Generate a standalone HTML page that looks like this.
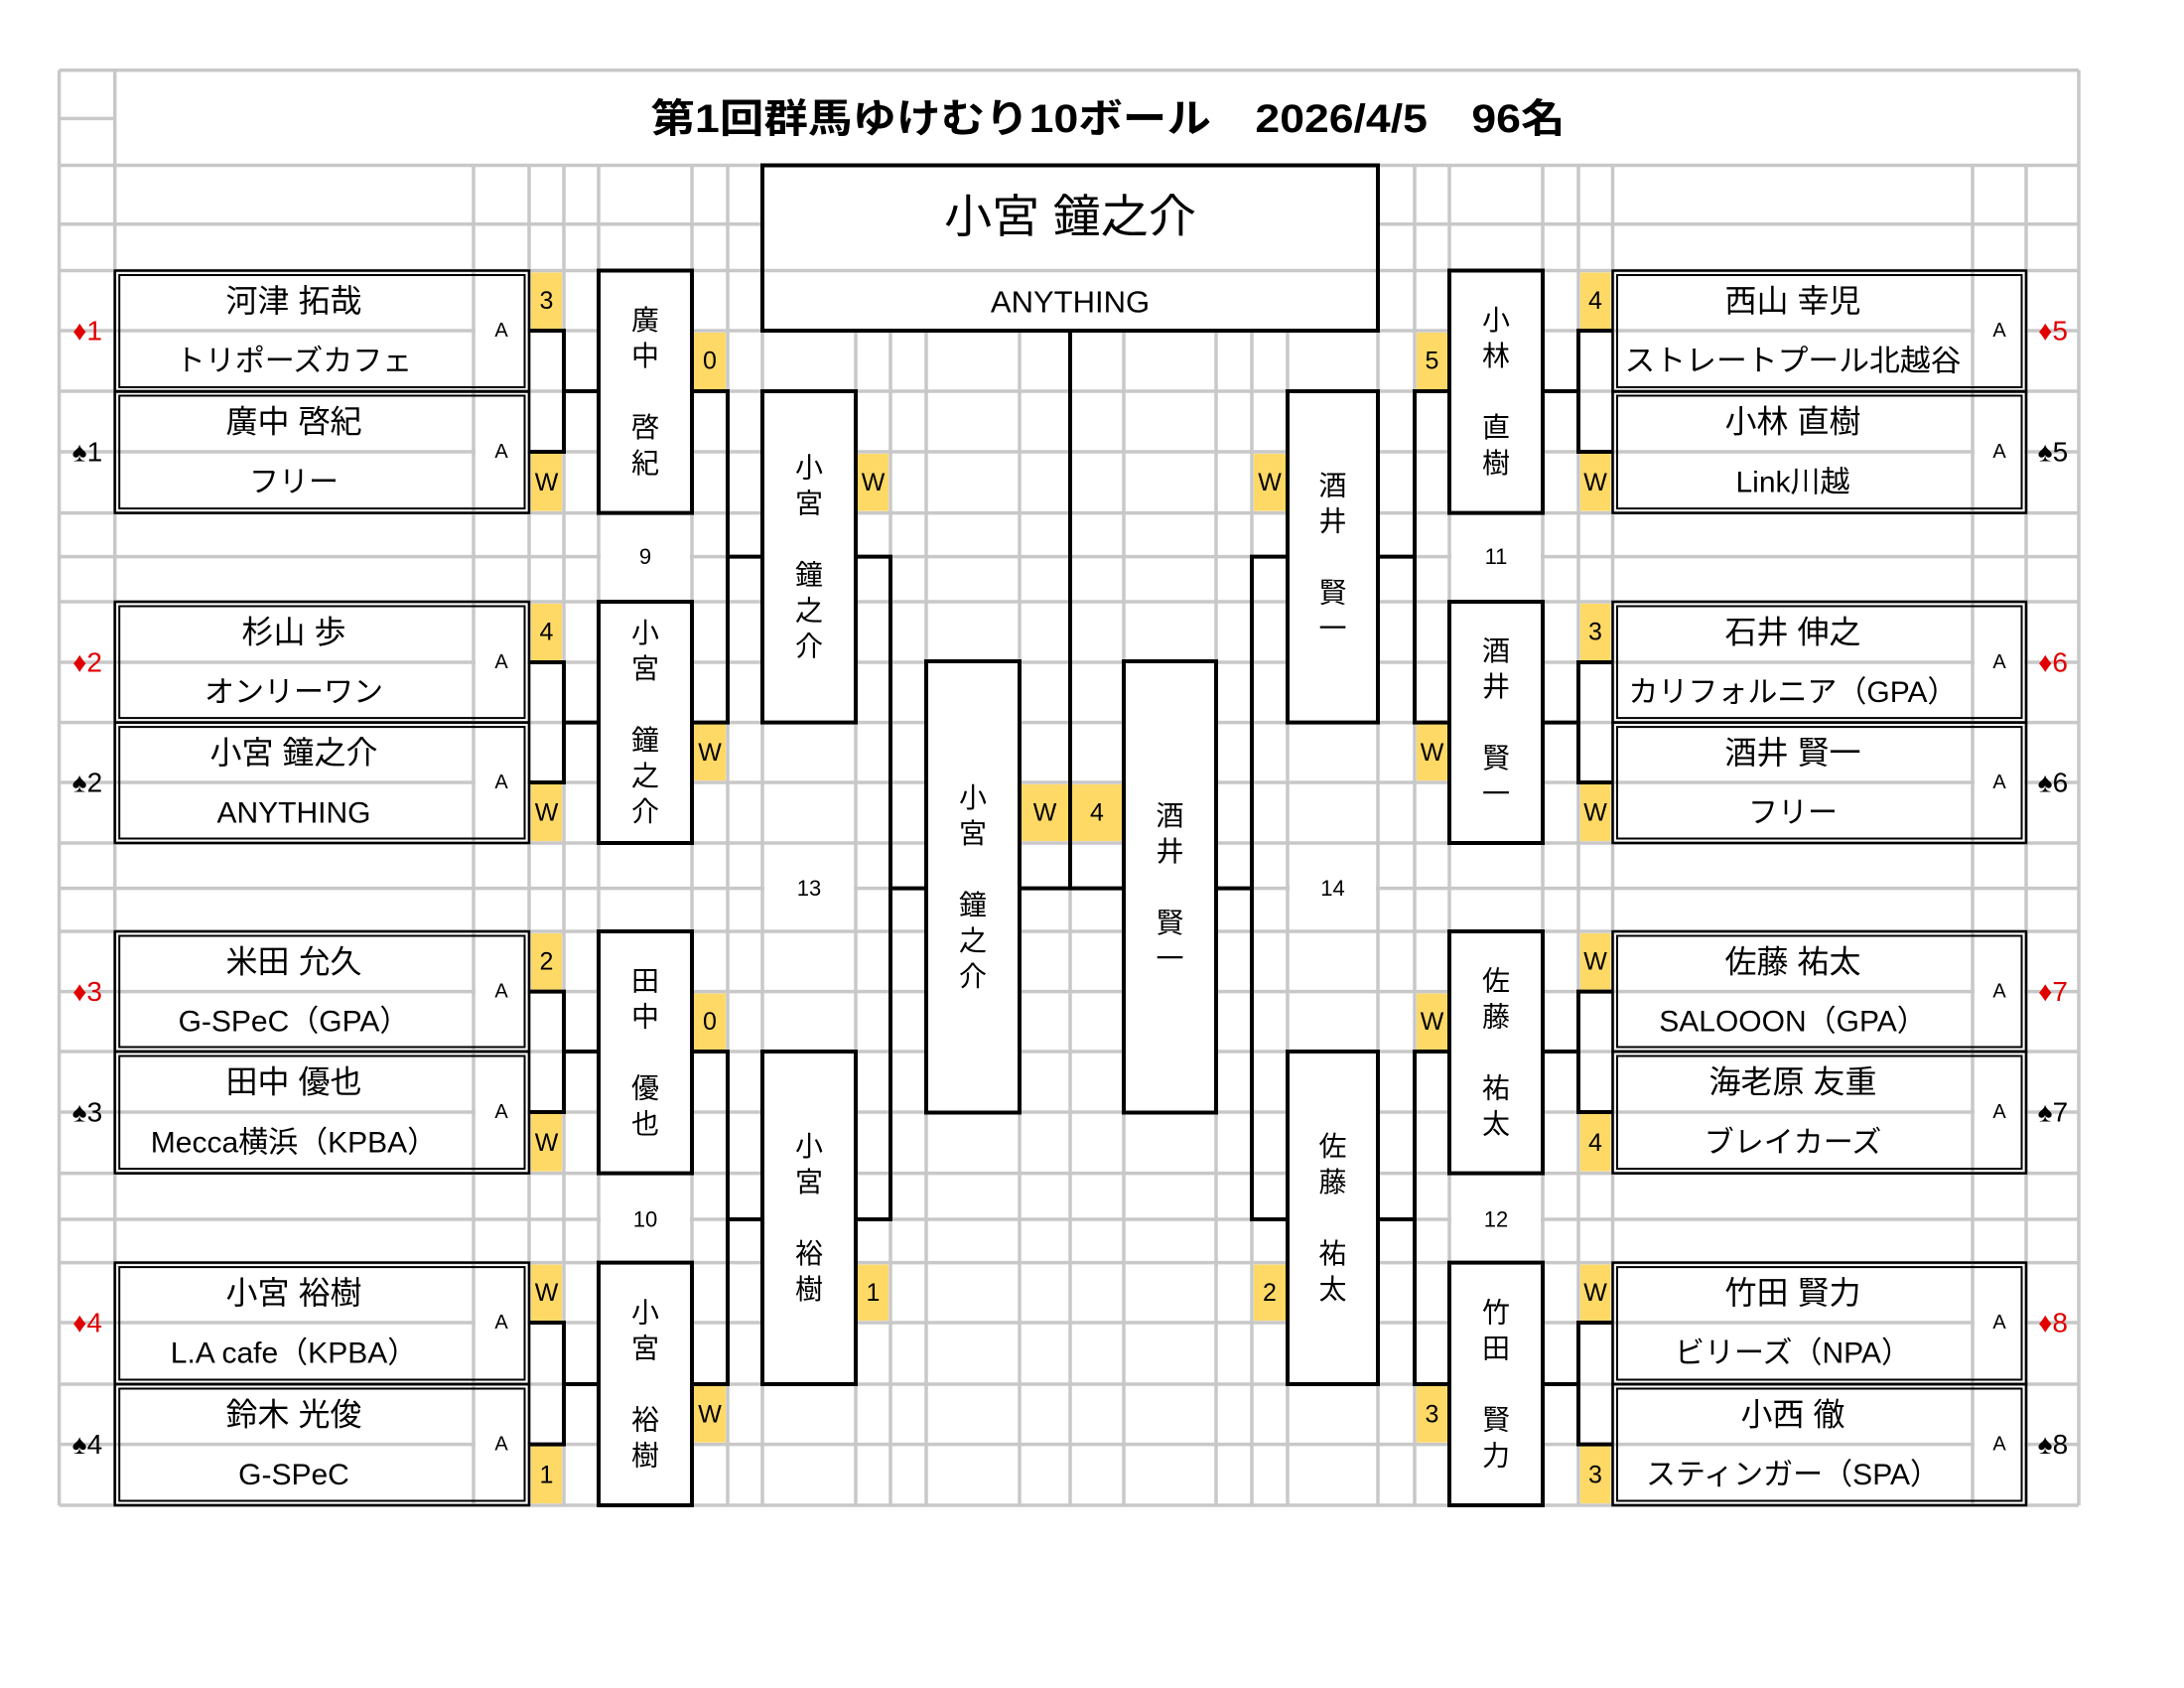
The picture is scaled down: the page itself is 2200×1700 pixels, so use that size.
<!DOCTYPE html>
<html><head><meta charset="utf-8"><style>html,body{margin:0;padding:0;background:#fff}svg{display:block}</style></head>
<body>
<svg xmlns="http://www.w3.org/2000/svg" width="2200" height="1700" viewBox="0 0 2200 1700" font-family="'Liberation Sans','Noto Sans CJK JP',sans-serif">
<rect width="2200" height="1700" fill="#fff"/>
<!-- grid -->
<g stroke="#c8c8c8" stroke-width="3.5" fill="none">
<path d="M59.6 70.8V1516M115.7 70.8V1516M2094 70.8V1516
M477 166.5V1516M533 166.5V1516M568 166.5V1516M603 166.5V1516M697 166.5V1516M733 166.5V1516M768 166.5V1516M862 166.5V1516M897 166.5V1516M933 166.5V1516M1027 166.5V1516M1078 166.5V1516M1132 166.5V1516M1225 166.5V1516M1261 166.5V1516M1297 166.5V1516M1388 166.5V1516M1425 166.5V1516M1460 166.5V1516M1554 166.5V1516M1590 166.5V1516M1624.5 166.5V1516M1987 166.5V1516M2041 166.5V1516"/>
<path d="M59.6 70.8H2094M59.6 119.4H115.7M59.6 166.5H2094M59.6 225.8H2094M59.6 272.5H2094M59.6 333H2094M59.6 394H2094M59.6 455H2094M59.6 516.6H2094M59.6 560.6H2094M59.6 606H2094M59.6 667H2094M59.6 727.6H2094M59.6 788H2094M59.6 849H2094M59.6 894.6H2094M59.6 938H2094M59.6 998.6H2094M59.6 1059H2094M59.6 1120H2094M59.6 1181.6H2094M59.6 1228H2094M59.6 1271.6H2094M59.6 1332H2094M59.6 1394H2094M59.6 1454.6H2094M59.6 1516H2094"/>
</g>
<!-- merged white cells -->
<g fill="#fff">
<rect x="605" y="518.5" width="90" height="85.5"/>
<rect x="605" y="1183.5" width="90" height="86"/>
<rect x="1462" y="518.5" width="90" height="85.5"/>
<rect x="1462" y="1183.5" width="90" height="86"/>
<rect x="770" y="851" width="90" height="85"/>
<rect x="1299" y="851" width="87" height="85"/>
<!-- A cells -->
<rect x="479" y="275" width="52" height="117"/><rect x="479" y="396" width="52" height="118"/>
<rect x="479" y="608" width="52" height="118"/><rect x="479" y="730" width="52" height="117"/>
<rect x="479" y="940" width="52" height="117"/><rect x="479" y="1061" width="52" height="118"/>
<rect x="479" y="1274" width="52" height="118"/><rect x="479" y="1396" width="52" height="118"/>
<rect x="1989" y="275" width="50" height="117"/><rect x="1989" y="396" width="50" height="118"/>
<rect x="1989" y="608" width="50" height="118"/><rect x="1989" y="730" width="50" height="117"/>
<rect x="1989" y="940" width="50" height="117"/><rect x="1989" y="1061" width="50" height="118"/>
<rect x="1989" y="1274" width="50" height="118"/><rect x="1989" y="1396" width="50" height="118"/>
</g>
<!-- white boxes -->
<g fill="#fff" stroke="#000" stroke-width="4">
<rect x="768" y="166.5" width="620" height="166.5"/>
<rect x="603" y="272.5" width="94" height="244.1"/>
<rect x="603" y="606" width="94" height="243"/>
<rect x="603" y="938" width="94" height="243.6"/>
<rect x="603" y="1271.6" width="94" height="244.4"/>
<rect x="768" y="394" width="94" height="333.6"/>
<rect x="768" y="1059" width="94" height="335"/>
<rect x="933" y="666" width="94" height="454.5"/>
<rect x="1132" y="666" width="93" height="454.5"/>
<rect x="1297" y="394" width="91" height="333.6"/>
<rect x="1297" y="1059" width="91" height="335"/>
<rect x="1460" y="272.5" width="94" height="244.1"/>
<rect x="1460" y="606" width="94" height="243"/>
<rect x="1460" y="938" width="94" height="243.6"/>
<rect x="1460" y="1271.6" width="94" height="244.4"/>
</g>
<!-- champion inner line -->
<path d="M770 272.5H1386" stroke="#c8c8c8" stroke-width="3.5"/>
<!-- player boxes double borders -->
<g fill="none" stroke="#000">
<g stroke-width="2.5">
<rect x="115.7" y="272.5" width="417.3" height="122"/><rect x="115.7" y="394" width="417.3" height="122.6"/>
<rect x="115.7" y="606" width="417.3" height="121.6"/><rect x="115.7" y="727.6" width="417.3" height="121.4"/>
<rect x="115.7" y="938" width="417.3" height="121"/><rect x="115.7" y="1059" width="417.3" height="122.6"/>
<rect x="115.7" y="1271.6" width="417.3" height="122.4"/><rect x="115.7" y="1394" width="417.3" height="122"/>
<rect x="1624.5" y="272.5" width="416.5" height="122"/><rect x="1624.5" y="394" width="416.5" height="122.6"/>
<rect x="1624.5" y="606" width="416.5" height="121.6"/><rect x="1624.5" y="727.6" width="416.5" height="121.4"/>
<rect x="1624.5" y="938" width="416.5" height="121"/><rect x="1624.5" y="1059" width="416.5" height="122.6"/>
<rect x="1624.5" y="1271.6" width="416.5" height="122.4"/><rect x="1624.5" y="1394" width="416.5" height="122"/>
</g>
<g stroke-width="2">
<rect x="120.2" y="277" width="408.3" height="113"/><rect x="120.2" y="398.5" width="408.3" height="113.6"/>
<rect x="120.2" y="610.5" width="408.3" height="112.6"/><rect x="120.2" y="732.1" width="408.3" height="112.4"/>
<rect x="120.2" y="942.5" width="408.3" height="112"/><rect x="120.2" y="1063.5" width="408.3" height="113.6"/>
<rect x="120.2" y="1276.1" width="408.3" height="113.4"/><rect x="120.2" y="1398.5" width="408.3" height="113"/>
<rect x="1629" y="277" width="407.5" height="113"/><rect x="1629" y="398.5" width="407.5" height="113.6"/>
<rect x="1629" y="610.5" width="407.5" height="112.6"/><rect x="1629" y="732.1" width="407.5" height="112.4"/>
<rect x="1629" y="942.5" width="407.5" height="112"/><rect x="1629" y="1063.5" width="407.5" height="113.6"/>
<rect x="1629" y="1276.1" width="407.5" height="113.4"/><rect x="1629" y="1398.5" width="407.5" height="113"/>
</g>
</g>
<!-- yellow cells -->
<g fill="#FFD966">
<rect x="535" y="274.5" width="31" height="56.5"/><rect x="535" y="457" width="31" height="57.6"/>
<rect x="535" y="608" width="31" height="57"/><rect x="535" y="790" width="31" height="57"/>
<rect x="535" y="940" width="31" height="56.6"/><rect x="535" y="1122" width="31" height="57.6"/>
<rect x="535" y="1273.6" width="31" height="56.4"/><rect x="535" y="1456.6" width="31" height="57.4"/>
<rect x="699" y="335" width="32" height="57"/><rect x="699" y="729.6" width="32" height="56.4"/>
<rect x="699" y="1000.6" width="32" height="56.4"/><rect x="699" y="1396" width="32" height="56.6"/>
<rect x="864" y="457" width="31" height="57.6"/><rect x="864" y="1273.6" width="31" height="56.4"/>
<rect x="1029" y="790" width="47" height="57"/><rect x="1080" y="790" width="50" height="57"/>
<rect x="1263" y="457" width="32" height="57.6"/><rect x="1263" y="1273.6" width="32" height="56.4"/>
<rect x="1427" y="335" width="31" height="57"/><rect x="1427" y="729.6" width="31" height="56.4"/>
<rect x="1427" y="1000.6" width="31" height="56.4"/><rect x="1427" y="1396" width="31" height="56.6"/>
<rect x="1592" y="274.5" width="30.5" height="56.5"/><rect x="1592" y="457" width="30.5" height="57.6"/>
<rect x="1592" y="608" width="30.5" height="57"/><rect x="1592" y="790" width="30.5" height="57"/>
<rect x="1592" y="940" width="30.5" height="56.6"/><rect x="1592" y="1122" width="30.5" height="57.6"/>
<rect x="1592" y="1273.6" width="30.5" height="56.4"/><rect x="1592" y="1456.6" width="30.5" height="57.4"/>
</g>
<!-- connectors -->
<g fill="none" stroke="#000" stroke-width="4">
<path d="M533 333H568V455H533M568 394H603"/>
<path d="M533 667H568V788H533M568 727.6H603"/>
<path d="M533 998.6H568V1120H533M568 1059H603"/>
<path d="M533 1332H568V1454.6H533M568 1394H603"/>
<path d="M1624.5 333H1590V455H1624.5M1590 394H1554"/>
<path d="M1624.5 667H1590V788H1624.5M1590 727.6H1554"/>
<path d="M1624.5 998.6H1590V1120H1624.5M1590 1059H1554"/>
<path d="M1624.5 1332H1590V1454.6H1624.5M1590 1394H1554"/>
<path d="M697 394H733V727.6H697M733 560.6H768"/>
<path d="M697 1059H733V1394H697M733 1228H768"/>
<path d="M1460 394H1425V727.6H1460M1425 560.6H1388"/>
<path d="M1460 1059H1425V1394H1460M1425 1228H1388"/>
<path d="M862 560.6H897V1228H862M897 894.6H933"/>
<path d="M1297 560.6H1261V1228H1297M1261 894.6H1225"/>
<path d="M1027 894.6H1132M1078 333V894.6"/>
</g>
<!-- title -->
<text x="1116" y="120" font-size="40" font-weight="bold" text-anchor="middle" dominant-baseline="central" textLength="921" lengthAdjust="spacingAndGlyphs">第1回群馬ゆけむり10ボール　2026/4/5　96名</text>
<text x="1078" y="218" font-size="46" text-anchor="middle" dominant-baseline="central" textLength="254" lengthAdjust="spacingAndGlyphs">小宮 鐘之介</text>
<text x="1078" y="304" font-size="31" text-anchor="middle" dominant-baseline="central">ANYTHING</text>
<!-- player names -->
<g font-size="32" text-anchor="middle" dominant-baseline="central">
<text x="296" y="303">河津 拓哉</text><text x="296" y="424.5">廣中 啓紀</text>
<text x="296" y="636.5">杉山 歩</text><text x="296" y="758">小宮 鐘之介</text>
<text x="296" y="968.3">米田 允久</text><text x="296" y="1089.5">田中 優也</text>
<text x="296" y="1302">小宮 裕樹</text><text x="296" y="1424.3">鈴木 光俊</text>
<text x="1806" y="303">西山 幸児</text><text x="1806" y="424.5">小林 直樹</text>
<text x="1806" y="636.5">石井 伸之</text><text x="1806" y="758">酒井 賢一</text>
<text x="1806" y="968.3">佐藤 祐太</text><text x="1806" y="1089.5">海老原 友重</text>
<text x="1806" y="1302">竹田 賢力</text><text x="1806" y="1424.3">小西 徹</text>
</g>
<g font-size="30" text-anchor="middle" dominant-baseline="central">
<text x="296" y="364">トリポーズカフェ</text><text x="296" y="486">フリー</text>
<text x="296" y="697.5">オンリーワン</text><text x="296" y="819">ANYTHING</text>
<text x="296" y="1029">G-SPeC（GPA）</text><text x="296" y="1151">Mecca横浜（KPBA）</text>
<text x="296" y="1363">L.A cafe（KPBA）</text><text x="296" y="1485.5">G-SPeC</text>
<text x="1806" y="364" textLength="339" lengthAdjust="spacingAndGlyphs">ストレートプール北越谷</text><text x="1806" y="486">Link川越</text>
<text x="1806" y="697.5">カリフォルニア（GPA）</text><text x="1806" y="819">フリー</text>
<text x="1806" y="1029">SALOOON（GPA）</text><text x="1806" y="1151">ブレイカーズ</text>
<text x="1806" y="1363">ビリーズ（NPA）</text><text x="1806" y="1485.5">スティンガー（SPA）</text>
</g>
<!-- A labels -->
<g font-size="20" text-anchor="middle" dominant-baseline="central">
<text x="505" y="333">A</text><text x="505" y="455">A</text><text x="505" y="667">A</text><text x="505" y="788">A</text>
<text x="505" y="998.6">A</text><text x="505" y="1120">A</text><text x="505" y="1332">A</text><text x="505" y="1454.6">A</text>
<text x="2014" y="333">A</text><text x="2014" y="455">A</text><text x="2014" y="667">A</text><text x="2014" y="788">A</text>
<text x="2014" y="998.6">A</text><text x="2014" y="1120">A</text><text x="2014" y="1332">A</text><text x="2014" y="1454.6">A</text>
</g>
<!-- seed labels -->
<g font-size="28" text-anchor="middle" dominant-baseline="central">
<g fill="#e00000"><text x="88" y="333">♦1</text><text x="88" y="667">♦2</text><text x="88" y="998.6">♦3</text><text x="88" y="1332">♦4</text>
<text x="2068" y="333">♦5</text><text x="2068" y="667">♦6</text><text x="2068" y="998.6">♦7</text><text x="2068" y="1332">♦8</text></g>
<text x="88" y="455">♠1</text><text x="88" y="788">♠2</text><text x="88" y="1120">♠3</text><text x="88" y="1454.6">♠4</text>
<text x="2068" y="455">♠5</text><text x="2068" y="788">♠6</text><text x="2068" y="1120">♠7</text><text x="2068" y="1454.6">♠8</text>
</g>
<!-- round labels -->
<g font-size="22" text-anchor="middle" dominant-baseline="central">
<text x="650" y="560.6">9</text><text x="650" y="1228">10</text><text x="815" y="894.6">13</text>
<text x="1507" y="560.6">11</text><text x="1507" y="1228">12</text><text x="1342.5" y="894.6">14</text>
</g>
<!-- scores -->
<g font-size="25" text-anchor="middle" dominant-baseline="central">
<text x="550.5" y="302.8">3</text><text x="550.5" y="485.8">W</text><text x="550.5" y="636.5">4</text><text x="550.5" y="818.5">W</text>
<text x="550.5" y="968.3">2</text><text x="550.5" y="1150.8">W</text><text x="550.5" y="1301.8">W</text><text x="550.5" y="1485.3">1</text>
<text x="715" y="363.5">0</text><text x="715" y="757.8">W</text><text x="715" y="1028.8">0</text><text x="715" y="1424.3">W</text>
<text x="879.5" y="485.8">W</text><text x="879.5" y="1301.8">1</text>
<text x="1052.5" y="818.5">W</text><text x="1105" y="818.5">4</text>
<text x="1279" y="485.8">W</text><text x="1279" y="1301.8">2</text>
<text x="1442.5" y="363.5">5</text><text x="1442.5" y="757.8">W</text><text x="1442.5" y="1028.8">W</text><text x="1442.5" y="1424.3">3</text>
<text x="1607" y="302.8">4</text><text x="1607" y="485.8">W</text><text x="1607" y="636.5">3</text><text x="1607" y="818.5">W</text>
<text x="1607" y="968.3">W</text><text x="1607" y="1150.8">4</text><text x="1607" y="1301.8">W</text><text x="1607" y="1485.3">3</text>
</g>
<!-- vertical names -->
<g font-size="28" text-anchor="middle" dominant-baseline="central">
<text x="650" y="322.5">廣</text><text x="650" y="358.5">中</text><text x="650" y="430.5">啓</text><text x="650" y="466.5">紀</text>
<text x="650" y="637.5">小</text><text x="650" y="673.5">宮</text><text x="650" y="745.5">鐘</text><text x="650" y="781.5">之</text><text x="650" y="817.5">介</text>
<text x="650" y="987.8">田</text><text x="650" y="1023.8">中</text><text x="650" y="1095.8">優</text><text x="650" y="1131.8">也</text>
<text x="650" y="1321.8">小</text><text x="650" y="1357.8">宮</text><text x="650" y="1429.8">裕</text><text x="650" y="1465.8">樹</text>
<text x="815" y="470.8">小</text><text x="815" y="506.8">宮</text><text x="815" y="578.8">鐘</text><text x="815" y="614.8">之</text><text x="815" y="650.8">介</text>
<text x="815" y="1154.5">小</text><text x="815" y="1190.5">宮</text><text x="815" y="1262.5">裕</text><text x="815" y="1298.5">樹</text>
<text x="980" y="803.3">小</text><text x="980" y="839.3">宮</text><text x="980" y="911.3">鐘</text><text x="980" y="947.3">之</text><text x="980" y="983.3">介</text>
<text x="1178.5" y="821.3">酒</text><text x="1178.5" y="857.3">井</text><text x="1178.5" y="929.3">賢</text><text x="1178.5" y="965.3">一</text>
<text x="1342.5" y="488.8">酒</text><text x="1342.5" y="524.8">井</text><text x="1342.5" y="596.8">賢</text><text x="1342.5" y="632.8">一</text>
<text x="1342.5" y="1154.5">佐</text><text x="1342.5" y="1190.5">藤</text><text x="1342.5" y="1262.5">祐</text><text x="1342.5" y="1298.5">太</text>
<text x="1507" y="322.5">小</text><text x="1507" y="358.5">林</text><text x="1507" y="430.5">直</text><text x="1507" y="466.5">樹</text>
<text x="1507" y="655.5">酒</text><text x="1507" y="691.5">井</text><text x="1507" y="763.5">賢</text><text x="1507" y="799.5">一</text>
<text x="1507" y="987.8">佐</text><text x="1507" y="1023.8">藤</text><text x="1507" y="1095.8">祐</text><text x="1507" y="1131.8">太</text>
<text x="1507" y="1321.8">竹</text><text x="1507" y="1357.8">田</text><text x="1507" y="1429.8">賢</text><text x="1507" y="1465.8">力</text>
</g>
</svg>
</body></html>
